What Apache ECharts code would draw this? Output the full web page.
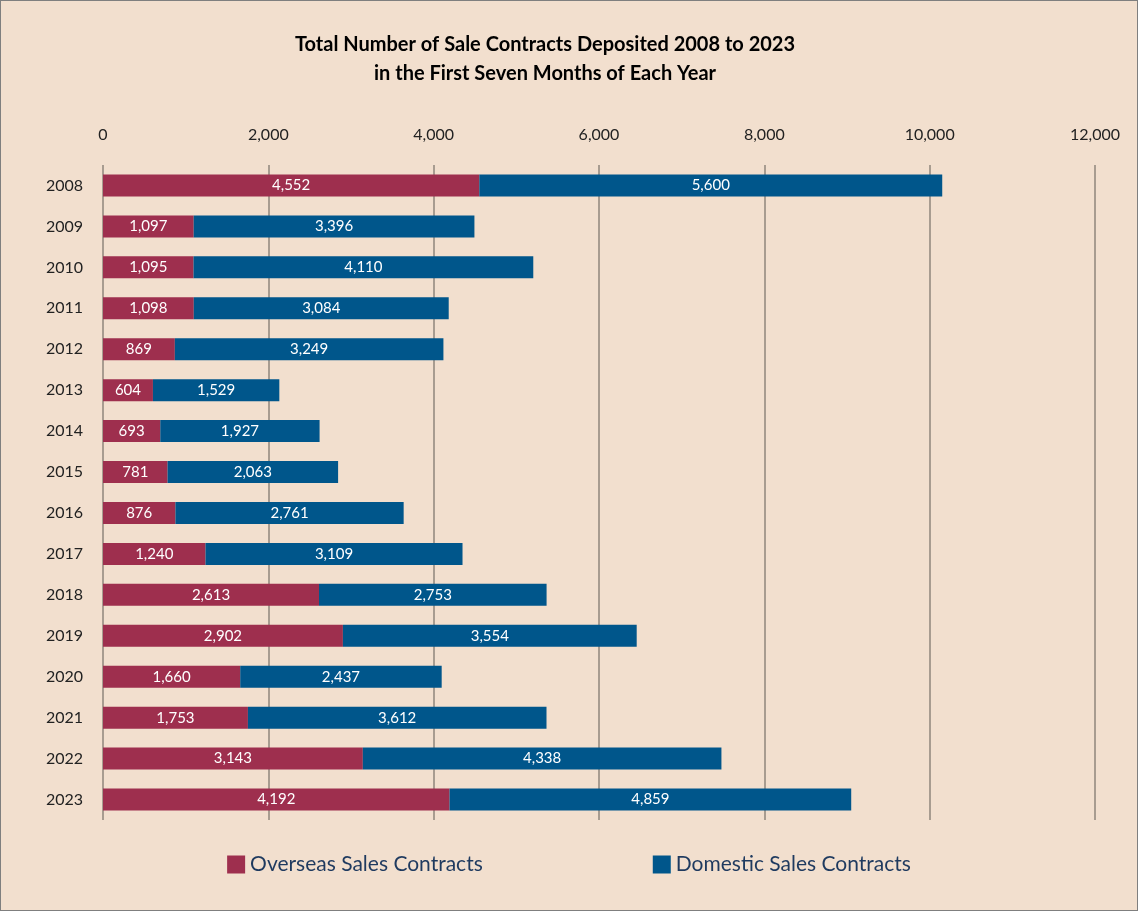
<!DOCTYPE html>
<html>
<head>
<meta charset="utf-8">
<script src="https://cdn.jsdelivr.net/npm/echarts@6/dist/echarts.min.js"></script>
<style>
html, body { margin: 0; padding: 0; background: #f2dfce; }
#chart { width: 1136px; height: 909px; border: 1px solid #7f7f7f; }
</style>
</head>
<body>
<div id="chart"></div>
<script>
const years = ['2008', '2009', '2010', '2011', '2012', '2013', '2014', '2015', '2016', '2017', '2018', '2019', '2020', '2021', '2022', '2023'];
const overseas = [4552, 1097, 1095, 1098, 869, 604, 693, 781, 876, 1240, 2613, 2902, 1660, 1753, 3143, 4192];
const domestic = [5600, 3396, 4110, 3084, 3249, 1529, 1927, 2063, 2761, 3109, 2753, 3554, 2437, 3612, 4338, 4859];

const fmt = function (v) { return v.toLocaleString('en-US'); };
const barLabel = {
    show: true,
    position: 'inside',
    color: '#fff',
    fontSize: 15,
    fontFamily: 'Lato',
    formatter: function (p) { return fmt(p.value); }
};

var chart = echarts.init(document.getElementById('chart'));
chart.setOption({
    backgroundColor: '#f2dfce',
    textStyle: { fontFamily: 'Lato' },
    title: {
        text: 'Total Number of Sale Contracts Deposited 2008 to 2023\nin the First Seven Months of Each Year',
        left: 539,
        textAlign: 'center',
        top: 24,
        textStyle: { fontSize: 20, fontWeight: 'bold', color: '#000', lineHeight: 29, fontFamily: 'Lato' }
    },
    legend: {
        bottom: 30,
        left: 'center',
        itemGap: 170,
        itemWidth: 18,
        itemHeight: 18,
        icon: 'rect',
        textStyle: { fontSize: 21, color: '#1f3a5f', fontFamily: 'Lato' },
        data: ['Overseas Sales Contracts', 'Domestic Sales Contracts']
    },
    grid: { left: 102, right: 42, top: 164, bottom: 90 },
    xAxis: {
        type: 'value',
        position: 'top',
        min: 0,
        max: 12000,
        interval: 2000,
        axisLine: { show: false },
        axisTick: { show: false },
        axisLabel: { fontSize: 16, color: '#222', margin: 22, formatter: fmt },
        splitLine: { lineStyle: { color: '#a89c90', width: 2 } }
    },
    yAxis: {
        type: 'category',
        inverse: true,
        data: years,
        axisLine: { show: false },
        axisTick: { show: false },
        axisLabel: { fontSize: 16, color: '#222', margin: 20 }
    },
    series: [
        {
            name: 'Overseas Sales Contracts',
            type: 'bar',
            stack: 'total',
            barWidth: 22,
            itemStyle: { color: '#9e2f4e' },
            label: barLabel,
            data: overseas
        },
        {
            name: 'Domestic Sales Contracts',
            type: 'bar',
            stack: 'total',
            barWidth: 22,
            itemStyle: { color: '#00568b' },
            label: barLabel,
            data: domestic
        }
    ]
});
</script>
</body>
</html>
